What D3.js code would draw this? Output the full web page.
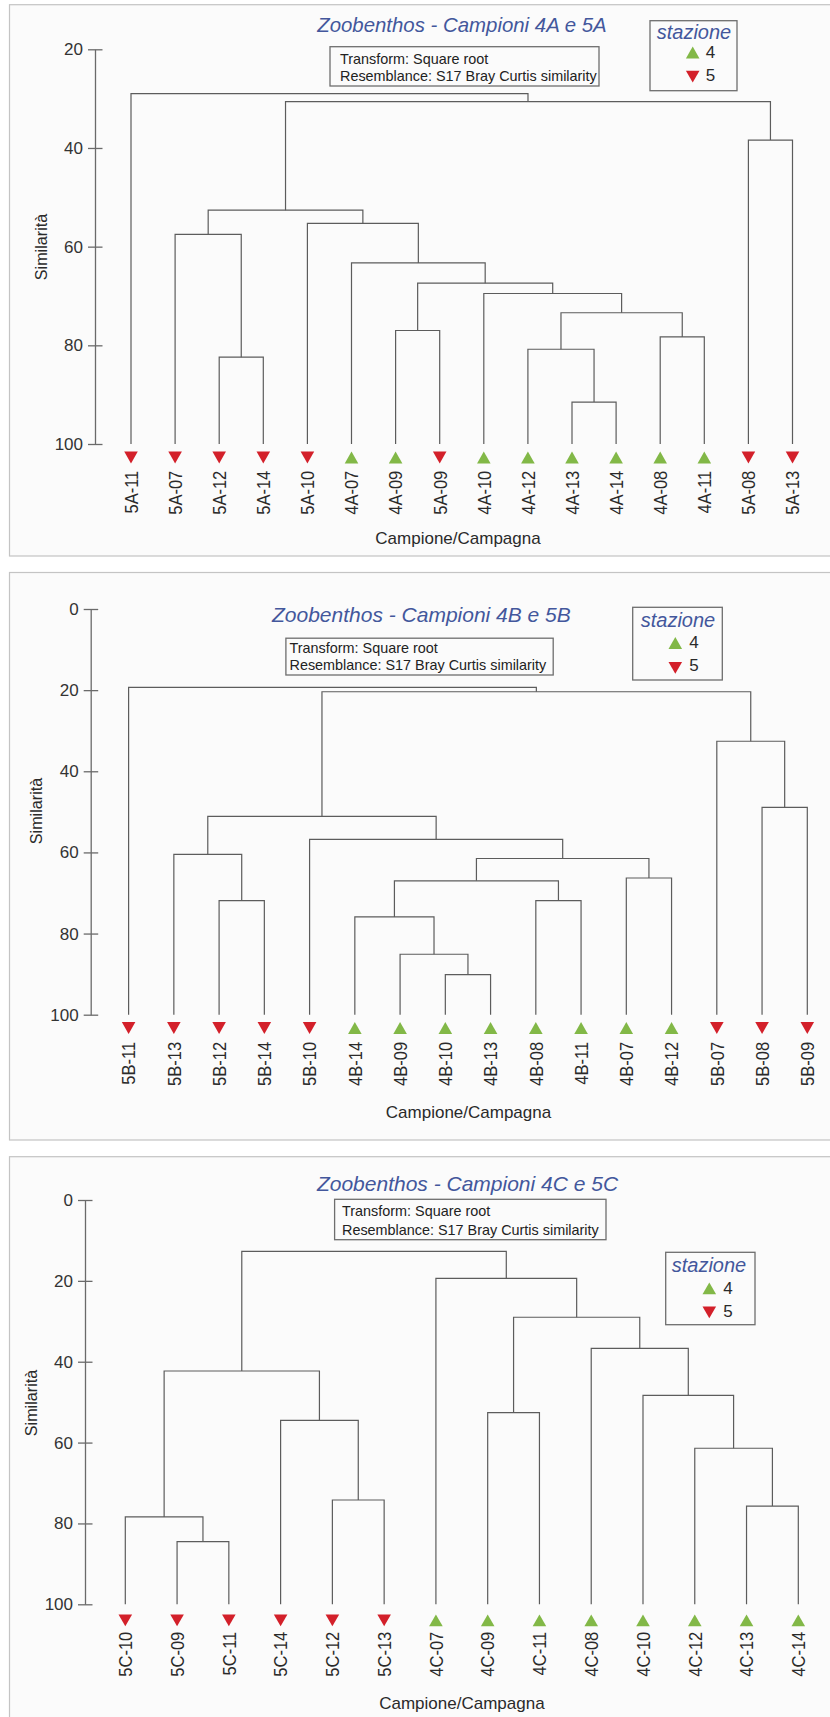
<!DOCTYPE html>
<html>
<head>
<meta charset="utf-8">
<script src="https://cdn.jsdelivr.net/npm/d3@7"></script>
<style>
  html, body { margin: 0; padding: 0; background: #ffffff; }
  svg { display: block; }
</style>
</head>
<body>
<svg id="chart" width="830" height="1717"></svg>
<script>
// ---------- Campioni 4A e 5A ----------
const leavesA   = ["5A-11","5A-07","5A-12","5A-14","5A-10","4A-07","4A-09","5A-09",
                   "4A-10","4A-12","4A-13","4A-14","4A-08","4A-11","5A-08","5A-13"];
const stationsA = [5,5,5,5,5,4,4,5,4,4,4,4,4,4,5,5];
// merges: [left, right, similarity]; negative = leaf (1-based), positive = earlier merge (1-based)
const mergesA = [
  [-11,-12,91.5], [-3,-4,82.4], [-10,1,80.8], [-13,-14,78.3], [-7,-8,77.0],
  [3,4,73.4], [-9,6,69.5], [5,7,67.4], [-6,8,63.3], [-2,2,57.5],
  [-5,9,55.3], [10,11,52.6], [-15,-16,38.4], [12,13,30.6], [-1,14,29.0]
];
const ticksA = [20,40,60,80,100];

// ---------- Campioni 4B e 5B ----------
const leavesB   = ["5B-11","5B-13","5B-12","5B-14","5B-10","4B-14","4B-09","4B-10",
                   "4B-13","4B-08","4B-11","4B-07","4B-12","5B-07","5B-08","5B-09"];
const stationsB = [5,5,5,5,5,4,4,4,4,4,4,4,4,5,5,5];
const mergesB = [
  [-8,-9,90.1], [-7,1,85.1], [-6,2,75.9], [-3,-4,71.9], [-10,-11,71.9],
  [3,5,67.0], [-12,-13,66.3], [6,7,61.5], [-2,4,60.5], [-5,8,56.8],
  [9,10,51.1], [-15,-16,48.9], [-14,12,32.6], [11,13,20.4], [-1,14,19.3]
];
const ticksB = [0,20,40,60,80,100];

// ---------- Campioni 4C e 5C ----------
const leavesC   = ["5C-10","5C-09","5C-11","5C-14","5C-12","5C-13","4C-07",
                   "4C-09","4C-11","4C-08","4C-10","4C-12","4C-13","4C-14"];
const stationsC = [5,5,5,5,5,5,4,4,4,4,4,4,4,4];
const mergesC = [
  [-2,-3,84.5], [-1,1,78.4], [-13,-14,75.7], [-5,-6,74.2], [-12,3,61.4],
  [-4,4,54.5], [-8,-9,52.6], [-11,5,48.3], [2,6,42.3], [-10,8,36.7],
  [7,10,29.0], [-7,11,19.4], [9,12,12.7]
];
const ticksC = [0,20,40,60,80,100];

const titles = ["Zoobenthos - Campioni 4A e 5A",
                "Zoobenthos - Campioni 4B e 5B",
                "Zoobenthos - Campioni 4C e 5C"];
const infoLines = ["Transform: Square root", "Resemblance: S17 Bray Curtis similarity"];
const legendTitle = "stazione";
const legendStations = [4, 5];
const xTitle = "Campione/Campagna";
const yTitle = "Similarità";

// ---------- layout of the three panels ----------
const panels = [
  { title: titles[0], leaves: leavesA, stations: stationsA, merges: mergesA, ticks: ticksA,
    frameTop: 4.7, frameBottom: 556, axisX: 95, yRange: [49.3, 444], leafX: [131, 792.5],
    titlePos: [461.9, 31.7], titleSize: 20.4,
    box: { x: 330, y: 46.7, w: 269, h: 39.3, tx: 340, b1: 64.3, b2: 81 },
    legend: { x: 650, y: 20.7, w: 87, h: 70, cx: 694, ty: 39.3, mx: 692.7, m4: 52.5, m5: 76.7, nx: 705.7, n4: 58.3, n5: 81 },
    markerY: 457.5, labelTop: 470.7, xTitlePos: [458, 544], yTitlePos: [46.5, 247] },
  { title: titles[1], leaves: leavesB, stations: stationsB, merges: mergesB, ticks: ticksB,
    frameTop: 572.5, frameBottom: 1140, axisX: 90.7, yRange: [609, 1014.7], leafX: [128.6, 807.3],
    titlePos: [421.4, 621.6], titleSize: 21,
    box: { x: 285.9, y: 638.2, w: 267.3, h: 36.8, tx: 289.5, b1: 652.5, b2: 670.4 },
    legend: { x: 632.7, y: 607.3, w: 89.6, h: 72.7, cx: 678, ty: 626.7, mx: 675.3, m4: 643, m5: 667.8, nx: 689.3, n4: 648.3, n5: 671 },
    markerY: 1028, labelTop: 1041.8, xTitlePos: [468.5, 1118], yTitlePos: [42.4, 811] },
  { title: titles[2], leaves: leavesC, stations: stationsC, merges: mergesC, ticks: ticksC,
    frameTop: 1156.7, frameBottom: 1760, axisX: 85, yRange: [1200, 1604.3], leafX: [125.3, 798.3],
    titlePos: [467.5, 1190.5], titleSize: 21,
    box: { x: 334.6, y: 1199.3, w: 271.4, h: 40.4, tx: 342, b1: 1216, b2: 1234.8 },
    legend: { x: 665.7, y: 1252.3, w: 89.3, h: 72.4, cx: 709, ty: 1271.7, mx: 709.3, m4: 1288.3, m5: 1312.3, nx: 723.3, n4: 1294, n5: 1316.7 },
    markerY: 1620.3, labelTop: 1631.7, xTitlePos: [461.9, 1709], yTitlePos: [37, 1403] }
];

const FONT = "'Liberation Sans', Arial, Helvetica, sans-serif";
const LINE = "#5c5c5c";
const BLUE = "#43579c";
const RED = "#d3202a";
const GREEN = "#82b847";
const TEXT = "#2a2a2a";

const svg = d3.select("#chart");

// Builds a d3 hierarchy from an hclust-style merge list
function buildTree(leaves, stations, merges) {
  const nodes = [];
  const ref = r => r < 0
    ? { name: leaves[-r - 1], station: stations[-r - 1], sim: 100 }
    : nodes[r - 1];
  merges.forEach(([a, b, s]) => nodes.push({ sim: s, children: [ref(a), ref(b)] }));
  return d3.hierarchy(nodes[nodes.length - 1]);
}

// Triangle marker: station 4 points up (green), station 5 points down (red)
const triSize = 80;
const triPath = d3.symbol(d3.symbolTriangle, triSize)();
const triR = Math.sqrt(triSize / (3 * Math.sqrt(3)));   // centroid-to-base distance
function marker(g, cx, cy, station) {
  // cy is the centre of the triangle's bounding box
  const up = station === 4;
  g.append("path")
    .attr("d", triPath)
    .attr("fill", up ? GREEN : RED)
    .attr("transform", up
      ? `translate(${cx},${cy + triR / 2})`
      : `translate(${cx},${cy - triR / 2}) rotate(180)`);
}

panels.forEach(p => {
  const g = svg.append("g");

  // panel frame
  g.append("rect")
    .attr("x", 9.5).attr("y", p.frameTop)
    .attr("width", 840).attr("height", p.frameBottom - p.frameTop)
    .attr("fill", "#fbfbfb").attr("stroke", "#c4c4c4").attr("stroke-width", 1.2);

  const domain = [d3.min(p.ticks), d3.max(p.ticks)];
  const y = d3.scaleLinear().domain(domain).range(p.yRange);
  const x = d3.scalePoint().domain(p.leaves).range(p.leafX);

  // similarity axis
  const axis = d3.axisLeft(y).tickValues(p.ticks).tickSizeOuter(0).tickSizeInner(7).tickPadding(5);
  const ag = g.append("g").attr("transform", `translate(${p.axisX},0)`).call(axis);
  ag.attr("font-family", FONT).attr("font-size", 17);
  ag.select(".domain").attr("stroke", "#6a6a6a").attr("stroke-width", 1.3);
  ag.selectAll(".tick line").attr("x1", 7.5).attr("stroke", "#6a6a6a").attr("stroke-width", 1.3);
  ag.selectAll(".tick text").attr("fill", "#333");

  // dendrogram
  const root = buildTree(p.leaves, p.stations, p.merges);
  root.eachAfter(n => {
    n.x = n.children ? d3.mean(n.children, c => c.x) : x(n.data.name);
  });

  g.append("g")
    .selectAll("path")
    .data(root.descendants().filter(n => n.children))
    .join("path")
    .attr("fill", "none")
    .attr("stroke", LINE)
    .attr("stroke-width", 1.2)
    .attr("d", n => {
      const [a, b] = n.children;
      return `M${a.x},${y(a.data.sim)}V${y(n.data.sim)}H${b.x}V${y(b.data.sim)}`;
    });

  // leaf markers and labels
  const leafNodes = root.leaves();
  const mg = g.append("g");
  leafNodes.forEach(l => marker(mg, l.x, p.markerY, l.data.station));

  const capH = 0.716 * 19;
  g.append("g")
    .selectAll("text")
    .data(leafNodes)
    .join("text")
    .attr("transform", l => `translate(${l.x + capH / 2},${p.labelTop}) rotate(-90) scale(0.87,1)`)
    .attr("text-anchor", "end")
    .attr("font-family", FONT)
    .attr("font-size", 19)
    .attr("fill", TEXT)
    .text(l => l.data.name);

  // title
  g.append("text")
    .attr("x", p.titlePos[0]).attr("y", p.titlePos[1])
    .attr("text-anchor", "middle")
    .attr("font-family", FONT).attr("font-style", "italic")
    .attr("font-size", p.titleSize)
    .attr("fill", BLUE)
    .text(p.title);

  // transform / resemblance box
  g.append("rect")
    .attr("x", p.box.x).attr("y", p.box.y)
    .attr("width", p.box.w).attr("height", p.box.h)
    .attr("fill", "#fbfbfb").attr("stroke", "#6e6e6e").attr("stroke-width", 1.3);
  [p.box.b1, p.box.b2].forEach((by, i) => {
    g.append("text")
      .attr("x", p.box.tx).attr("y", by)
      .attr("font-family", FONT).attr("font-size", 14.4)
      .attr("fill", "#222")
      .text(infoLines[i]);
  });

  // legend
  const L = p.legend;
  g.append("rect")
    .attr("x", L.x).attr("y", L.y).attr("width", L.w).attr("height", L.h)
    .attr("fill", "#fbfbfb").attr("stroke", "#6e6e6e").attr("stroke-width", 1.3);
  g.append("text")
    .attr("x", L.cx).attr("y", L.ty)
    .attr("text-anchor", "middle")
    .attr("font-family", FONT).attr("font-style", "italic").attr("font-size", 20)
    .attr("fill", BLUE)
    .text(legendTitle);
  legendStations.forEach(s => {
    marker(g, L.mx, s === 4 ? L.m4 : L.m5, s);
    g.append("text")
      .attr("x", L.nx).attr("y", s === 4 ? L.n4 : L.n5)
      .attr("font-family", FONT).attr("font-size", 17)
      .attr("fill", TEXT)
      .text(s);
  });

  // axis titles
  g.append("text")
    .attr("x", p.xTitlePos[0]).attr("y", p.xTitlePos[1])
    .attr("text-anchor", "middle")
    .attr("font-family", FONT).attr("font-size", 17)
    .attr("fill", TEXT)
    .text(xTitle);
  g.append("text")
    .attr("transform", `translate(${p.yTitlePos[0]},${p.yTitlePos[1]}) rotate(-90) scale(0.95,1)`)
    .attr("text-anchor", "middle")
    .attr("font-family", FONT).attr("font-size", 17)
    .attr("fill", TEXT)
    .text(yTitle);
});
</script>
</body>
</html>
